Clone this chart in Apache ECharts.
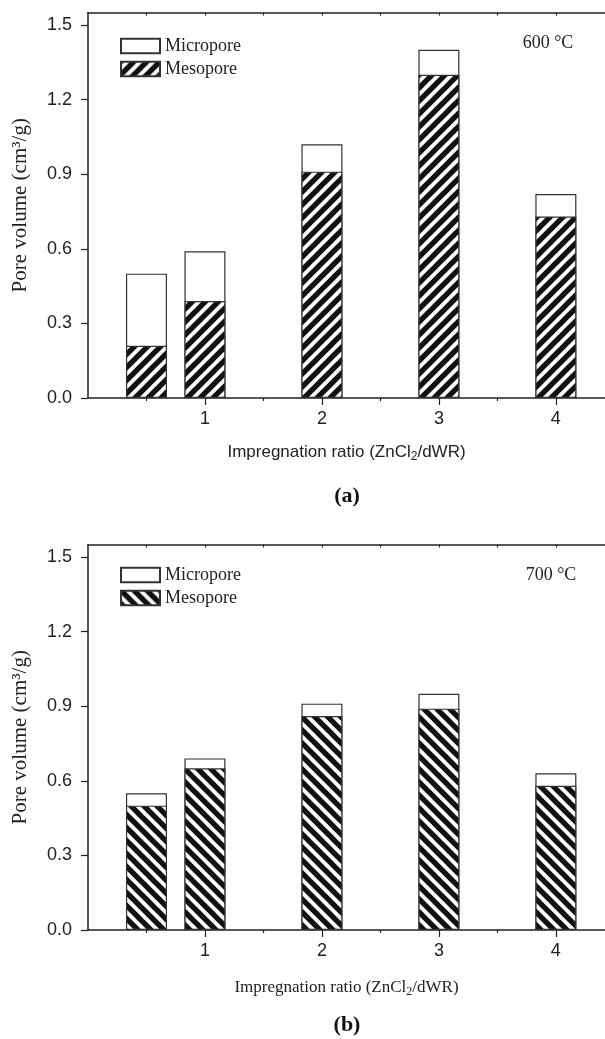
<!DOCTYPE html>
<html><head><meta charset="utf-8">
<script src="https://cdn.jsdelivr.net/npm/echarts@6/dist/echarts.min.js"></script>
<style>
html,body{margin:0;padding:0;background:#fff;width:605px;height:1039px;overflow:hidden}
#a{position:absolute;left:0;top:0;width:605px;height:532px}
#b{position:absolute;left:0;top:532px;width:605px;height:507px}
</style>
</head><body><div id="a"></div><div id="b"></div>
<script>
// ---- data ----
const ratios = [0.5, 1, 2, 3, 4];
const xTickValues = [1, 2, 3, 4];
const xMinorTickValues = [0.5, 1.5, 2.5, 3.5];
const xTopTickValues = [0.5, 1, 1.5, 2, 2.5, 3, 3.5, 4];
const yTickValues = [0, 0.3, 0.6, 0.9, 1.2, 1.5];
const meso600 = [0.21, 0.39, 0.91, 1.30, 0.73];
const micro600 = [0.29, 0.20, 0.11, 0.10, 0.09];
const meso700 = [0.50, 0.65, 0.86, 0.89, 0.58];
const micro700 = [0.05, 0.04, 0.05, 0.06, 0.05];

const serif = '"Liberation Serif","Times New Roman",serif';
const sans = '"Liberation Sans",Arial,sans-serif';
const ink = '#222';
const rectIcon = 'path://M0,0H40V15H0Z';

function hatch(dir) {
  const s = 13, c = document.createElement('canvas');
  c.width = s; c.height = s;
  const g = c.getContext('2d');
  g.fillStyle = '#fff'; g.fillRect(0, 0, s, s);
  g.strokeStyle = '#111'; g.lineWidth = 5.4;
  for (let k = -1; k <= 1; k++) {
    g.beginPath();
    if (dir > 0) { g.moveTo(k * s - 2, s + 2); g.lineTo(k * s + s + 2, -2); }
    else { g.moveTo(k * s - 2, -2); g.lineTo(k * s + s + 2, s + 2); }
    g.stroke();
  }
  return c;
}

function makeOption(p) {
  const pat = { image: hatch(p.dir), repeat: 'repeat' };
  const xBase = { type: 'value', gridIndex: 0, min: 0, max: 4.42, interval: 1, splitLine: { show: false } };
  return {
    animation: false,
    grid: { left: 88, top: p.top, width: 517, height: 385.5 },
    legend: {
      orient: 'vertical', left: 115, top: p.legendTop, itemWidth: 39, itemHeight: 15, itemGap: 5,
      selectedMode: false,
      data: [{ name: 'Micropore', icon: rectIcon }, { name: 'Mesopore', icon: rectIcon }],
      textStyle: { fontFamily: serif, fontSize: 18, color: ink }
    },
    xAxis: [
      Object.assign({}, xBase, {
        position: 'bottom',
        axisLine: { lineStyle: { color: ink, width: 1.5 } },
        axisTick: { customValues: xTickValues, length: 7, lineStyle: { color: ink, width: 1.2 } },
        axisLabel: { customValues: xTickValues, margin: 12, fontFamily: sans, fontSize: 18, color: ink },
        name: 'Impregnation ratio (ZnCl{s|2}/dWR)', nameLocation: 'middle', nameGap: p.nameGap,
        nameTextStyle: { fontFamily: p.xNameFont, fontSize: 17, color: ink,
          rich: { s: { fontFamily: p.xNameFont, fontSize: 12, color: ink, padding: [9, 0, 0, 0], verticalAlign: 'bottom' } } }
      }),
      Object.assign({}, xBase, {
        position: 'bottom', axisLine: { show: false },
        axisTick: { customValues: xMinorTickValues, length: 3, lineStyle: { color: ink, width: 1.2 } },
        axisLabel: { show: false }
      }),
      Object.assign({}, xBase, {
        position: 'top', axisLine: { lineStyle: { color: ink, width: 1.5 } },
        axisTick: { inside: true, customValues: xTopTickValues, length: 3, lineStyle: { color: ink, width: 1.2 } },
        axisLabel: { show: false }
      })
    ],
    yAxis: {
      type: 'value', min: 0, max: 1.55, interval: 0.3,
      axisLine: { show: true, lineStyle: { color: ink, width: 1.5 } },
      axisTick: { show: true, customValues: yTickValues, length: 7, lineStyle: { color: ink, width: 1.2 } },
      axisLabel: { customValues: yTickValues, formatter: v => v.toFixed(1), margin: 16, fontFamily: sans, fontSize: 18, color: ink },
      splitLine: { show: false },
      name: 'Pore volume (cm³/g)', nameLocation: 'middle', nameGap: 57,
      nameTextStyle: { fontFamily: serif, fontSize: 21, color: ink }
    },
    series: [
      // Micropore sits on top of the mesopore part: its bar spans up to meso + micro
      { name: 'Micropore', type: 'bar', xAxisIndex: 0, barWidth: 41, z: 2,
        data: ratios.map((r, i) => [r, +(p.meso[i] + p.micro[i]).toFixed(3)]),
        itemStyle: { color: '#fff', borderColor: '#333', borderWidth: 1.2 } },
      { name: 'Mesopore', type: 'bar', xAxisIndex: 0, barWidth: 41, barGap: '-100%', z: 3,
        data: ratios.map((r, i) => [r, p.meso[i]]),
        itemStyle: { color: pat, borderColor: '#333', borderWidth: 1.2 } }
    ],
    graphic: [
      { type: 'text', x: p.tempX, y: p.tempY, style: { text: p.temp, font: '18px ' + serif, fill: ink,
        align: 'center', verticalAlign: 'middle', textAlign: 'center', textVerticalAlign: 'middle' } },
      { type: 'text', x: 347, y: p.capY, style: { text: p.cap, font: 'bold 22px ' + serif, fill: '#111',
        align: 'center', verticalAlign: 'middle', textAlign: 'center', textVerticalAlign: 'middle' } }
    ]
  };
}

const chartA = echarts.init(document.getElementById('a'), null, { renderer: 'canvas' });
chartA.setOption(makeOption({ dir: 1, top: 12.5, legendTop: 32, meso: meso600, micro: micro600,
  temp: '600 °C', tempX: 548, tempY: 43, cap: '(a)', capY: 496, nameGap: 44, xNameFont: sans }));

const chartB = echarts.init(document.getElementById('b'), null, { renderer: 'canvas' });
chartB.setOption(makeOption({ dir: -1, top: 12.5, legendTop: 29, meso: meso700, micro: micro700,
  temp: '700 °C', tempX: 551, tempY: 43, cap: '(b)', capY: 493, nameGap: 47, xNameFont: serif }));
</script>
</body></html>
